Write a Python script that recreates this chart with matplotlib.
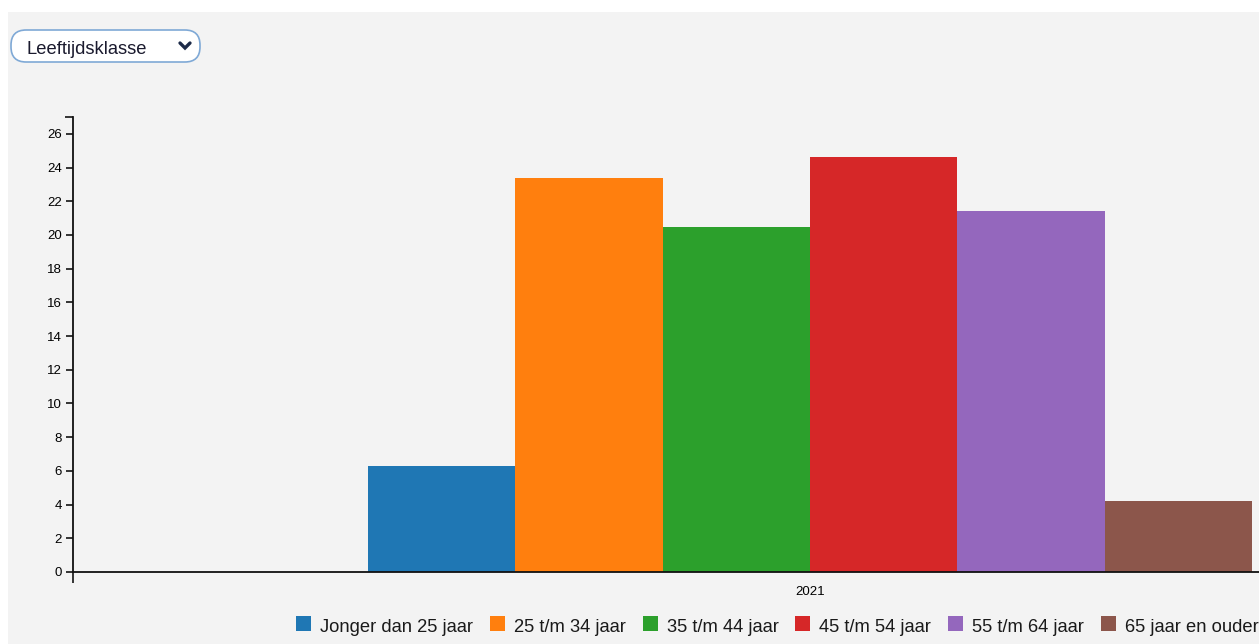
import matplotlib
matplotlib.use("Agg")
import matplotlib.pyplot as plt
from matplotlib.patches import Rectangle, FancyBboxPatch
from matplotlib.lines import Line2D

plt.rcParams['font.family'] = ['Liberation Sans', 'DejaVu Sans']

year = "2021"
labels = ["Jonger dan 25 jaar", "25 t/m 34 jaar", "35 t/m 44 jaar",
          "45 t/m 54 jaar", "55 t/m 64 jaar", "65 jaar en ouder"]
values = [6.3, 23.4, 20.5, 24.6, 21.4, 4.2]
colors = ["#1f77b4", "#ff7f0e", "#2ca02c", "#d62728", "#9467bd", "#8c564b"]
yticks = list(range(0, 27, 2))

W, H = 1259, 644
fig = plt.figure(figsize=(W / 100, H / 100), dpi=100, facecolor="white")

# grey panel behind everything
fig.patches.append(Rectangle((8 / W, 0), 1 - 8 / W, 1 - 12 / H, transform=fig.transFigure,
                             facecolor="#f3f3f3", edgecolor="none", zorder=-10))

# dropdown box
fig.patches.append(FancyBboxPatch((11 / W, (H - 62) / H), 189 / W, 32 / H,
                                  boxstyle="round,pad=0,rounding_size=0.012",
                                  transform=fig.transFigure, facecolor="white",
                                  edgecolor="#7fa9d6", linewidth=1.2, zorder=-5,
                                  mutation_aspect=W / H))
fig.text(27 / W, (H - 47) / H, "Leeftijdsklasse", fontsize=13.2, color="#1a1a2e",
         va="center_baseline", ha="left")
fig.lines.append(Line2D([180 / W, 185 / W, 190 / W], [(H - 43) / H, (H - 48) / H, (H - 43) / H],
                        transform=fig.transFigure, color="#1c2a48", linewidth=2.4,
                        solid_capstyle="round", solid_joinstyle="miter"))

# axes: band range runs from x=73 to x=1547 (past the right edge)
left, right = 73, 1547
top, bottom = 117, 572
ax = fig.add_axes([left / W, (H - bottom) / H, (right - left) / W, (bottom - top) / H])
ax.set_facecolor("none")

bw = 0.1
n = len(values)
for i, (lab, v, c) in enumerate(zip(labels, values, colors)):
    x = (i - (n - 1) / 2) * bw
    ax.bar(x, v, width=bw, color=c, label=lab)

ax.set_xlim(-0.5, 0.5)
ax.set_ylim(0, 27)
ax.set_yticks(yticks)
ax.set_yticklabels([str(t) for t in yticks], fontsize=9.5)
ax.set_xticks([0])
ax.set_xticklabels([year], fontsize=9.5)
ax.tick_params(axis="x", length=0, pad=10)
ax.tick_params(axis="y", length=5, width=1.1, pad=3)
# outer ticks at the domain ends (d3 style)
ax.set_yticks([27], minor=True)
ax.set_xticks([-0.5], minor=True)
ax.tick_params(axis="both", which="minor", length=6, width=1.1)
ax.tick_params(axis="x", which="minor", length=8)

for s in ["top", "right"]:
    ax.spines[s].set_visible(False)
for s in ["left", "bottom"]:
    ax.spines[s].set_linewidth(1.3)
    ax.spines[s].set_color("#111111")

# legend along the bottom, clipped on the right like the original
leg_x = [296, 490, 643, 795, 948, 1101]
for lx, lab, c in zip(leg_x, labels, colors):
    fig.patches.append(Rectangle((lx / W, (H - 631) / H), 15 / W, 15 / H,
                                 transform=fig.transFigure, facecolor=c, edgecolor="none"))
    fig.text((lx + 24) / W, (H - 625) / H, lab, fontsize=13.2, color="#1a1a1a",
             va="center_baseline", ha="left")

fig.savefig("out.png", dpi=100, facecolor="white")
